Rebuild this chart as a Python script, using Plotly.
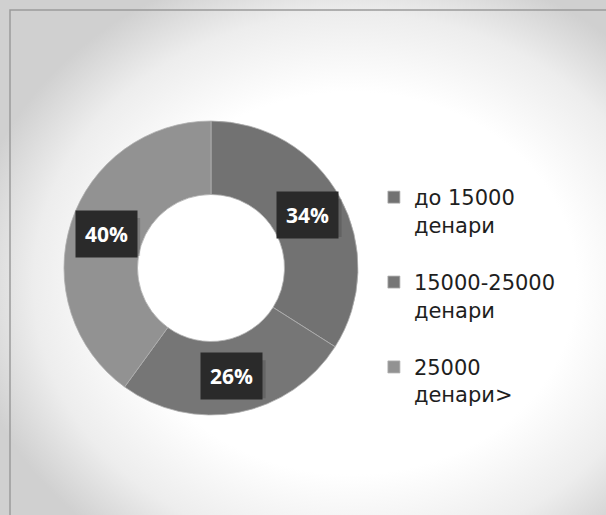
import base64
import math
import plotly.graph_objects as go

# Income bands and their shares (%)
categories = ["до 15000<br>денари<br> ", "15000-25000<br>денари<br> ", "25000<br>денари><br> "]
shares = [34, 26, 40]
slice_colors = ["#727272", "#767676", "#929292"]

W, H = 606, 515

# Donut geometry in pixels (centre and outer radius)
cx_px, cy_px, r_px = 211, 268, 147
dom_x = [(cx_px - r_px) / W, (cx_px + r_px) / W]
dom_y = [(H - cy_px - r_px) / H, (H - cy_px + r_px) / H]
hole = 0.5

# Soft radial backdrop as an inline SVG
svg = f"""<svg xmlns='http://www.w3.org/2000/svg' width='{W}' height='{H}'>
<defs><radialGradient id='g' cx='58%' cy='55%' r='64%'>
<stop offset='0%' stop-color='#ffffff'/>
<stop offset='58%' stop-color='#ffffff'/>
<stop offset='82%' stop-color='#ededed'/>
<stop offset='100%' stop-color='#d0d0d0'/>
</radialGradient></defs>
<rect width='{W}' height='{H}' fill='url(#g)'/>
</svg>"""
bg_src = "data:image/svg+xml;base64," + base64.b64encode(svg.encode()).decode()

fig = go.Figure(
    go.Pie(
        labels=categories,
        values=shares,
        hole=hole,
        sort=False,
        direction="clockwise",
        rotation=0,
        textinfo="none",
        hoverinfo="skip",
        marker=dict(colors=slice_colors, line=dict(color="#b0b0b0", width=0.8)),
        domain=dict(x=dom_x, y=dom_y),
    )
)

# Percentage labels in dark boxes at the middle of each ring segment
total = sum(shares)
start = 0.0
r_lab = r_px * (1 + hole) / 2
cxp = (dom_x[0] + dom_x[1]) / 2
cyp = (dom_y[0] + dom_y[1]) / 2
shapes = []
for v in shares:
    mid = math.radians(360 * (start + v / 2) / total)
    start += v
    lx = cxp + r_lab * math.sin(mid) / W
    ly = cyp + r_lab * math.cos(mid) / H
    # soft drop shadow behind the label box
    shapes.append(dict(
        type="rect", xref="paper", yref="paper", layer="above",
        xsizemode="pixel", ysizemode="pixel", xanchor=lx, yanchor=ly,
        x0=-28, x1=34, y0=-22, y1=16,
        fillcolor="rgba(30,30,30,0.18)", line=dict(width=0),
    ))
    fig.add_annotation(
        x=lx, y=ly, xref="paper", yref="paper",
        xanchor="center", yanchor="middle",
        text=f"<b>{round(100 * v / total)}%</b>", showarrow=False,
        font=dict(family="Open Sans", size=21, color="#ffffff"),
        bgcolor="#2a2a2a", borderpad=9,
    )

# Frame along the top and left edges
shapes.append(dict(
    type="rect", xref="paper", yref="paper", layer="above",
    x0=10 / W, y0=-0.05, x1=1.05, y1=1 - 10 / H,
    line=dict(color="#9a9a9a", width=1.5),
))

fig.update_layout(
    width=W,
    height=H,
    margin=dict(l=0, r=0, t=0, b=0),
    paper_bgcolor="#ffffff",
    showlegend=True,
    legend=dict(
        x=0.617, y=1 - 177 / H, xanchor="left", yanchor="top",
        font=dict(family="DejaVu Sans", size=21, color="#1e1e1e"),
        valign="top",
        bgcolor="rgba(0,0,0,0)",
        itemclick=False, itemdoubleclick=False,
    ),
    images=[dict(
        source=bg_src, xref="paper", yref="paper", x=0, y=1,
        sizex=1, sizey=1, xanchor="left", yanchor="top",
        sizing="stretch", layer="below",
    )],
    shapes=shapes,
)

fig.write_html("out.html")
